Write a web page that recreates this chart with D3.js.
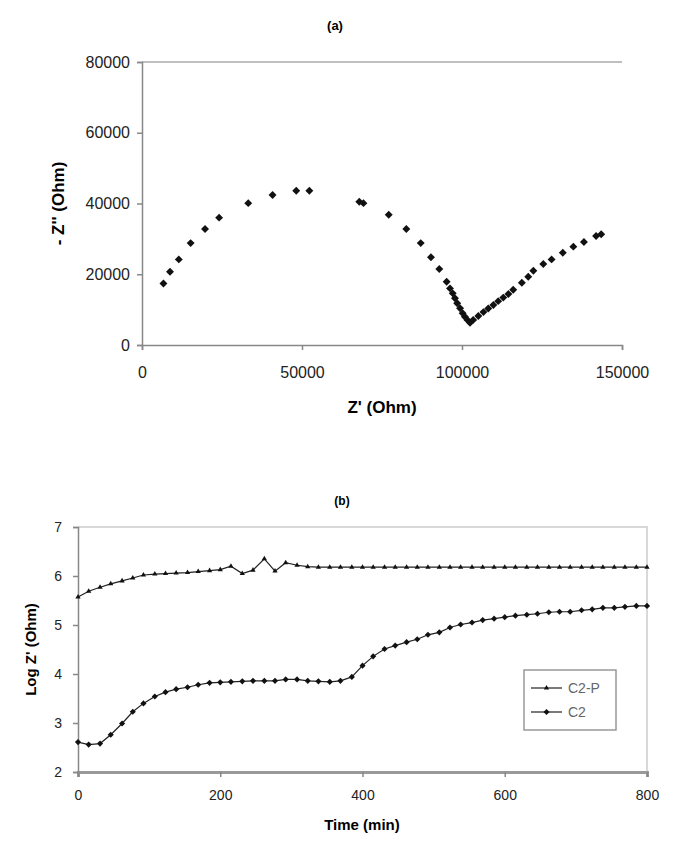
<!DOCTYPE html>
<html>
<head>
<meta charset="utf-8">
<script src="https://cdn.jsdelivr.net/npm/d3@7"></script>
<style>
  body { margin: 0; background: #fff; }
  svg text { font-family: "Liberation Sans", Arial, sans-serif; }
</style>
</head>
<body>
<svg id="chart" width="681" height="847"></svg>
<script>
// (a) Nyquist plot: Z' (Ohm) vs -Z'' (Ohm)
var zReal = [6700, 8750, 11500, 15200, 19700, 24100, 33200, 40800, 48200, 52300,
  67900, 69200, 77100, 82600, 87100, 90300, 92900, 95200, 96250, 97100, 97800,
  98500, 99400, 100200, 100900, 101700, 102500, 103500, 105100, 106700, 108200,
  109800, 111300, 112900, 114500, 116000, 118700, 120700, 122300, 125400, 128000,
  131500, 134800, 138100, 141900, 143500]
var zImag = [17400, 20700, 24200, 28800, 32800, 36000, 40100, 42400, 43600, 43600,
  40500, 40100, 36800, 32800, 28800, 24800, 21500, 17900, 16000, 14600, 13200,
  11800, 10400, 9000, 8000, 7100, 6300, 7100, 8200, 9300, 10300, 11300, 12400,
  13400, 14400, 15600, 17600, 19300, 21000, 22900, 24200, 26100, 27800, 29100,
  30800, 31300]
var xTicksA = [0, 50000, 100000, 150000]
var yTicksA = [0, 20000, 40000, 60000, 80000]

// (b) Log Z' vs time
var time = [0, 15, 31, 46, 62, 77, 92, 108, 123, 138, 154, 169, 185, 200, 215,
  231, 246, 262, 277, 292, 308, 323, 338, 354, 369, 385, 400, 415, 431, 446,
  462, 477, 492, 508, 523, 538, 554, 569, 585, 600, 615, 631, 646, 662, 677,
  692, 708, 723, 738, 754, 769, 785, 800]
var c2p = [5.57, 5.69, 5.77, 5.84, 5.90, 5.96, 6.02, 6.04, 6.05, 6.06, 6.07,
  6.09, 6.11, 6.13, 6.20, 6.05, 6.12, 6.35, 6.10, 6.27, 6.22, 6.19, 6.18, 6.18,
  6.18, 6.18, 6.18, 6.18, 6.18, 6.18, 6.18, 6.18, 6.18, 6.18, 6.18, 6.18, 6.18,
  6.18, 6.18, 6.18, 6.18, 6.18, 6.18, 6.18, 6.18, 6.18, 6.18, 6.18, 6.18, 6.18,
  6.18, 6.18, 6.18]
var c2 = [2.61, 2.56, 2.58, 2.76, 2.99, 3.23, 3.40, 3.54, 3.63, 3.69, 3.73,
  3.78, 3.82, 3.83, 3.84, 3.85, 3.86, 3.86, 3.86, 3.89, 3.89, 3.86, 3.85, 3.84,
  3.86, 3.94, 4.17, 4.36, 4.51, 4.58, 4.65, 4.71, 4.80, 4.85, 4.95, 5.01, 5.05,
  5.10, 5.13, 5.16, 5.19, 5.21, 5.23, 5.26, 5.27, 5.27, 5.30, 5.32, 5.35, 5.35,
  5.37, 5.39, 5.39]
var xTicksB = [0, 200, 400, 600, 800]
var yTicksB = [2, 3, 4, 5, 6, 7]
var seriesNames = ['C2-P', 'C2']

var svg = d3.select('#chart')
var diamond = d3.symbolDiamond2 || d3.symbolDiamond

// ---------- (a) ----------
var xA = d3.scaleLinear().domain([0, 150000]).range([142, 622])
var yA = d3.scaleLinear().domain([0, 80000]).range([345, 62])

var gA = svg.append('g')

gA.append('line')
  .attr('x1', xA(0)).attr('x2', xA(150000))
  .attr('y1', yA(80000)).attr('y2', yA(80000))
  .attr('stroke', '#aaa').attr('stroke-width', 1.5)

gA.append('g')
  .attr('transform', 'translate(0,' + yA(0) + ')')
  .call(d3.axisBottom(xA).tickValues(xTicksA).tickSize(5).tickPadding(17).tickFormat(d3.format('d')))
  .call(styleAxis, 16)

gA.append('g')
  .attr('transform', 'translate(' + xA(0) + ',0)')
  .call(d3.axisLeft(yA).tickValues(yTicksA).tickSize(5).tickPadding(7).tickFormat(d3.format('d')))
  .call(styleAxis, 16)

gA.selectAll('path.pt')
  .data(zReal)
  .join('path')
  .attr('class', 'pt')
  .attr('d', d3.symbol(diamond, 40))
  .attr('transform', (d, i) => 'translate(' + xA(d) + ',' + yA(zImag[i]) + ')')
  .attr('fill', '#111')

gA.append('text')
  .attr('x', 335).attr('y', 30)
  .attr('text-anchor', 'middle')
  .attr('font-size', 13).attr('font-weight', 'bold')
  .text('(a)')

gA.append('text')
  .attr('x', 382).attr('y', 413)
  .attr('text-anchor', 'middle')
  .attr('font-size', 17).attr('font-weight', 'bold')
  .text("Z' (Ohm)")

gA.append('text')
  .attr('transform', 'translate(64,' + yA(40000) + ') rotate(-90)')
  .attr('text-anchor', 'middle')
  .attr('font-size', 17).attr('font-weight', 'bold')
  .text("- Z'' (Ohm)")

// ---------- (b) ----------
var xB = d3.scaleLinear().domain([0, 800]).range([78, 647])
var yB = d3.scaleLinear().domain([2, 7]).range([772, 527])

var gB = svg.append('g')

gB.append('path')
  .attr('d', 'M' + xB(0) + ',' + yB(7) + 'H' + xB(800) + 'V' + yB(2))
  .attr('fill', 'none')
  .attr('stroke', '#ccc').attr('stroke-width', 1.5)

gB.append('g')
  .attr('transform', 'translate(0,' + yB(2) + ')')
  .call(d3.axisBottom(xB).tickValues(xTicksB).tickSize(5).tickPadding(13))
  .call(styleAxis, 14)
  .call(g => g.select('.domain').attr('stroke', '#999').attr('stroke-width', 3))

gB.append('g')
  .attr('transform', 'translate(' + xB(0) + ',0)')
  .call(d3.axisLeft(yB).tickValues(yTicksB).tickSize(5).tickPadding(11).tickFormat(d3.format('d')))
  .call(styleAxis, 14)

var line = d3.line()
  .x((d, i) => xB(time[i]))
  .y(d => yB(d))

var series = [c2p, c2]
var markers = [d3.symbol(d3.symbolTriangle, 12), d3.symbol(diamond, 24)]

series.forEach((vals, s) => {
  gB.append('path')
    .datum(vals)
    .attr('d', line)
    .attr('fill', 'none')
    .attr('stroke', '#222').attr('stroke-width', 1.2)

  gB.selectAll('path.m' + s)
    .data(vals)
    .join('path')
    .attr('class', 'm' + s)
    .attr('d', markers[s])
    .attr('transform', (d, i) => 'translate(' + xB(time[i]) + ',' + yB(d) + ')')
    .attr('fill', '#111')
})

gB.append('text')
  .attr('x', 342).attr('y', 505)
  .attr('text-anchor', 'middle')
  .attr('font-size', 12).attr('font-weight', 'bold')
  .text('(b)')

gB.append('text')
  .attr('x', 362).attr('y', 830)
  .attr('text-anchor', 'middle')
  .attr('font-size', 15).attr('font-weight', 'bold')
  .text('Time (min)')

gB.append('text')
  .attr('transform', 'translate(36,' + yB(4.5) + ') rotate(-90)')
  .attr('text-anchor', 'middle')
  .attr('font-size', 15).attr('font-weight', 'bold')
  .text("Log Z' (Ohm)")

// legend
var leg = gB.append('g').attr('transform', 'translate(524,670)')
leg.append('rect')
  .attr('width', 92).attr('height', 60)
  .attr('fill', '#fff')
  .attr('stroke', '#999').attr('stroke-width', 1.5)

seriesNames.forEach((name, s) => {
  var y = 18 + s * 24
  leg.append('line')
    .attr('x1', 7).attr('x2', 38).attr('y1', y).attr('y2', y)
    .attr('stroke', '#222').attr('stroke-width', 1.2)
  leg.append('path')
    .attr('d', markers[s])
    .attr('transform', 'translate(22.5,' + y + ')')
    .attr('fill', '#111')
  leg.append('text')
    .attr('x', 44).attr('y', y + 5)
    .attr('font-size', 14).attr('fill', '#666')
    .text(name)
})

function styleAxis(g, size){
  g.select('.domain').attr('stroke', '#888').attr('stroke-width', 1.5)
  g.selectAll('.tick line').attr('stroke', '#888').attr('stroke-width', 1.5)
  g.selectAll('.tick text')
    .attr('font-size', size)
    .attr('fill', '#222')
    .style('font-family', '"Liberation Sans", Arial, sans-serif')
}
</script>
</body>
</html>
